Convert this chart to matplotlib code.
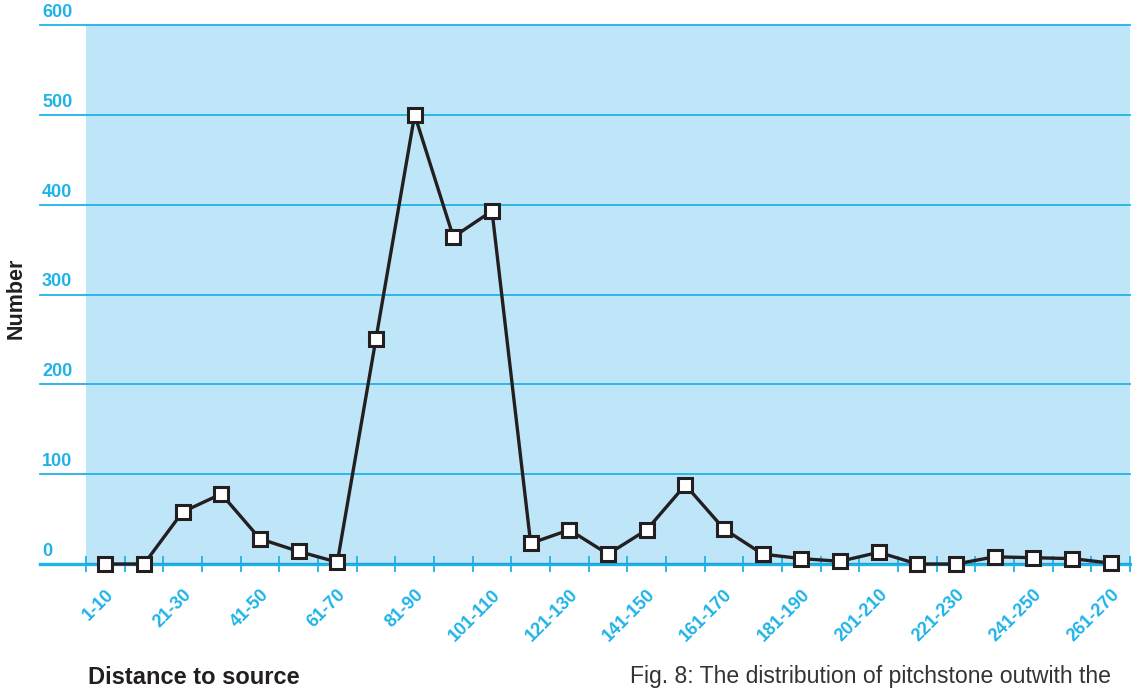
import matplotlib
matplotlib.use("Agg")
import matplotlib.pyplot as plt
import matplotlib.transforms as mtransforms

categories = ["1-10", "11-20", "21-30", "31-40", "41-50", "51-60", "61-70", "71-80",
              "81-90", "91-100", "101-110", "111-120", "121-130", "131-140", "141-150",
              "151-160", "161-170", "171-180", "181-190", "191-200", "201-210",
              "211-220", "221-230", "231-240", "241-250", "251-260", "261-270"]
counts = [0, 0, 58, 78, 28, 14, 2, 251, 500, 364, 393, 23, 38, 11, 38, 88, 39,
          11, 6, 3, 13, 0, 0, 8, 7, 6, 1]
yticks = [0, 100, 200, 300, 400, 500, 600]

CYAN = "#1fb3e8"
BG = "#bee6f8"
DARK = "#231f20"
FONT = "Liberation Sans"

W, H = 1132, 688
fig = plt.figure(figsize=(W / 100, H / 100), dpi=100)
left, right, bottom, top = 86, 1130, 564, 25
ax = fig.add_axes([left / W, 1 - bottom / H, (right - left) / W, (bottom - top) / H])
ax.patch.set_visible(False)
n = len(categories)
ax.axvspan(0, n, color=BG, zorder=0, lw=0)

ax.set_xlim(0, n)
ax.set_ylim(0, 600)
for s in ax.spines.values():
    s.set_visible(False)

ext = -(left - 40) / (right - left)
for y in yticks:
    lw = 2.4 if y == 0 else 1.3
    ax.axhline(y, xmin=ext, xmax=1, color=CYAN, lw=lw, clip_on=False, zorder=1)
ax.axhline(0, xmin=0, xmax=1, color=DARK, lw=0.9, zorder=2)

ax.set_xticks(range(n + 1), minor=True)
ax.tick_params(axis="x", which="minor", direction="inout", length=12, width=1.3,
               color=CYAN)
xs = [i + 0.5 for i in range(n)]
ax.set_xticks(xs[::2])
ax.set_xticklabels(categories[::2], rotation=45, ha="right", va="top",
                   rotation_mode="anchor", color=CYAN, fontsize=13,
                   fontweight="bold", fontfamily=FONT)
ax.tick_params(axis="x", which="major", length=0, pad=16)

ax.set_yticks(yticks)
ax.set_yticklabels([str(v) for v in yticks], color=CYAN, fontsize=13,
                   fontweight="bold", fontfamily=FONT)
ax.tick_params(axis="y", length=0, pad=(left - 42) * 72 / 100)
off = mtransforms.ScaledTranslation(0, 4 / 100, fig.dpi_scale_trans)
for lab in ax.get_yticklabels():
    lab.set_horizontalalignment("left")
    lab.set_verticalalignment("bottom")
    lab.set_transform(lab.get_transform() + off)

ax.plot(xs, counts, color=DARK, lw=2.4, marker="s", markersize=10.5,
        markerfacecolor="white", markeredgecolor=DARK, markeredgewidth=2.2,
        zorder=5, clip_on=False)

fig.text(16 / W, 1 - 298 / H, "Number", rotation=90, ha="center", va="center",
         fontsize=15.5, fontweight="bold", fontfamily=FONT, color=DARK)
fig.text(88 / W, 1 - 684 / H, "Distance to source", ha="left", va="baseline",
         fontsize=17, fontweight="bold", fontfamily=FONT, color=DARK)
fig.text(630 / W, 1 - 683 / H, "Fig. 8: The distribution of pitchstone outwith the",
         ha="left", va="baseline", fontsize=16.6, fontfamily=FONT, color="#333333")

fig.savefig("out.png", dpi=100)
